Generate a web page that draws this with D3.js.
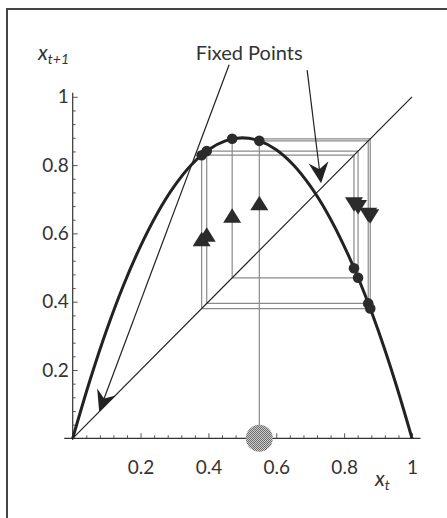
<!DOCTYPE html>
<html>
<head>
<meta charset="utf-8">
<script src="https://cdn.jsdelivr.net/npm/d3@7"></script>
<style>
  body { margin: 0; background: #fff; }
  text { font-family: Lato, "Open Sans", sans-serif; fill: #333; }
</style>
</head>
<body>
<div id="chart"></div>
<script>
// curve of the map x_{t+1} = f(x_t)
var curveX = [0, 0.05, 0.1, 0.15, 0.2, 0.25, 0.3, 0.35, 0.4, 0.45, 0.5, 0.55, 0.6, 0.65, 0.7, 0.75, 0.8, 0.85, 0.9, 0.95, 1];
var curveY = [0, 0.167, 0.317, 0.449, 0.563, 0.66, 0.739, 0.801, 0.845, 0.871, 0.88, 0.871, 0.845, 0.801, 0.739, 0.66, 0.563, 0.449, 0.317, 0.167, 0];

// cobweb orbit, starting at the grey dot
var orbit = [0.55, 0.871, 0.395, 0.841, 0.470, 0.877, 0.380, 0.829, 0.498];

// tick labels
var majorTicks = [0.2, 0.4, 0.6, 0.8, 1];
var minorTicks = [0.04, 0.08, 0.12, 0.16, 0.24, 0.28, 0.32, 0.36, 0.44, 0.48, 0.52, 0.56,
                  0.64, 0.68, 0.72, 0.76, 0.84, 0.88, 0.92, 0.96];

// annotation: label and where its two arrows point (data coords)
var fixedLabel = {text: "Fixed Points", x: 0.52, y: 1.108};
var fixedArrows = [
  {from: [0.461, 1.094], to: [0.078, 0.078]},
  {from: [0.691, 1.078], to: [0.732, 0.747]}
];

var width = 447, height = 518;

var svg = d3.select("#chart")
            .append("svg")
            .attr("width", width)
            .attr("height", height);

var x = d3.scaleLinear().domain([0, 1]).range([72.7, 412]);
var y = d3.scaleLinear().domain([0, 1]).range([438.3, 96.8]);

// stipple for the start dot
var pat = svg.append("defs").append("pattern")
             .attr("id", "stipple")
             .attr("width", 2).attr("height", 2)
             .attr("patternUnits", "userSpaceOnUse");
pat.append("rect").attr("width", 2).attr("height", 2).attr("fill", "#cfcfcf");
pat.append("rect").attr("width", 1).attr("height", 1).attr("fill", "#6a6a6a");
pat.append("rect").attr("x", 1).attr("y", 1).attr("width", 1).attr("height", 1).attr("fill", "#6a6a6a");

// frame
svg.append("rect")
   .attr("x", 7).attr("y", 9)
   .attr("width", 470).attr("height", 540)
   .attr("fill", "none")
   .attr("stroke", "#444")
   .attr("stroke-width", 2);

// axes lines
svg.append("line")
   .attr("x1", x(-0.025)).attr("x2", x(1.025))
   .attr("y1", y(0)).attr("y2", y(0))
   .attr("stroke", "#333").attr("stroke-width", 1.2);
svg.append("line")
   .attr("x1", x(0)).attr("x2", x(0))
   .attr("y1", y(-0.005)).attr("y2", y(1.012))
   .attr("stroke", "#333").attr("stroke-width", 1.2);

// ticks
function tickAxis(g, axis) {
  g.call(axis);
  g.select(".domain").remove();
  g.selectAll("line").attr("stroke", "#555");
}
svg.append("g").attr("transform", "translate(0," + y(0) + ")")
   .call(tickAxis, d3.axisBottom(x).tickValues(majorTicks).tickSize(-5).tickFormat(""));
svg.append("g").attr("transform", "translate(0," + y(0) + ")")
   .call(tickAxis, d3.axisBottom(x).tickValues(minorTicks).tickSize(-3).tickFormat(""));
svg.append("g").attr("transform", "translate(" + x(0) + ",0)")
   .call(tickAxis, d3.axisLeft(y).tickValues(majorTicks).tickSize(-5).tickFormat(""));
svg.append("g").attr("transform", "translate(" + x(0) + ",0)")
   .call(tickAxis, d3.axisLeft(y).tickValues(minorTicks).tickSize(-3).tickFormat(""));

// tick labels
var xl = svg.append("g").attr("transform", "translate(0," + y(0) + ")")
            .call(d3.axisBottom(x).tickValues(majorTicks).tickSize(0).tickPadding(22).tickFormat(d3.format("")));
xl.select(".domain").remove();
xl.selectAll("text").attr("font-size", 19).attr("font-family", "Lato");
var yl = svg.append("g").attr("transform", "translate(" + x(0) + ",0)")
            .call(d3.axisLeft(y).tickValues(majorTicks).tickSize(0).tickPadding(4).tickFormat(d3.format("")));
yl.select(".domain").remove();
yl.selectAll("text").attr("font-size", 19).attr("font-family", "Lato");

// axis titles
var ty = svg.append("text").attr("x", x(-0.102)).attr("y", y(1.108)).attr("font-size", 21);
ty.append("tspan").attr("font-style", "italic").text("x");
ty.append("tspan").attr("font-style", "italic").attr("font-size", 14).attr("dy", 4).text("t+1");
var tx = svg.append("text").attr("x", x(0.891)).attr("y", y(-0.14)).attr("font-size", 21);
tx.append("tspan").attr("font-style", "italic").text("x");
tx.append("tspan").attr("font-style", "italic").attr("font-size", 14).attr("dy", 4).text("t");

// cobweb lines
var web = [];
web.push([[orbit[0], 0], [orbit[0], orbit[1]]]);
for (var i = 1; i < orbit.length - 1; i++) {
  web.push([[orbit[i - 1], orbit[i]], [orbit[i], orbit[i]]]);
  web.push([[orbit[i], orbit[i]], [orbit[i], orbit[i + 1]]]);
}
svg.selectAll(".web")
   .data(web)
   .enter().append("line")
   .attr("class", "web")
   .attr("x1", function(d){ return x(d[0][0]); })
   .attr("y1", function(d){ return y(d[0][1]); })
   .attr("x2", function(d){ return x(d[1][0]); })
   .attr("y2", function(d){ return y(d[1][1]); })
   .attr("stroke", "#8a8a8a")
   .attr("stroke-width", 1.2);

// diagonal
svg.append("line")
   .attr("x1", x(0)).attr("y1", y(0))
   .attr("x2", x(1)).attr("y2", y(1))
   .attr("stroke", "#222").attr("stroke-width", 1.2);

// the map curve
var pts = curveX.map(function(v, i){ return [v, curveY[i]]; });
svg.append("path")
   .datum(pts)
   .attr("d", d3.line().x(function(d){ return x(d[0]); }).y(function(d){ return y(d[1]); }).curve(d3.curveCatmullRom))
   .attr("fill", "none")
   .attr("stroke", "#222")
   .attr("stroke-width", 3);

// direction triangles, tip at the middle of each vertical step
var steps = [];
for (var j = 0; j < orbit.length - 1; j++) {
  steps.push({x: orbit[j], mid: (orbit[j] + orbit[j + 1]) / 2, up: orbit[j + 1] > orbit[j]});
}
svg.selectAll(".tri")
   .data(steps)
   .enter().append("path")
   .attr("class", "tri")
   .attr("d", function(d){
     var cx = x(d.x), cy = y(d.mid), s = d.up ? 1 : -1;
     return "M" + cx + "," + cy + "L" + (cx - 9) + "," + (cy + s * 14.5) + "L" + (cx + 9) + "," + (cy + s * 14.5) + "Z";
   })
   .attr("fill", "#2b2b2b");

// dots on the curve
svg.selectAll(".dot")
   .data(d3.range(orbit.length - 1))
   .enter().append("circle")
   .attr("class", "dot")
   .attr("cx", function(k){ return x(orbit[k]); })
   .attr("cy", function(k){ return y(orbit[k + 1]); })
   .attr("r", 5.3)
   .attr("fill", "#2b2b2b");

// start dot on the axis
svg.append("circle")
   .attr("cx", x(orbit[0])).attr("cy", y(0))
   .attr("r", 13.5)
   .attr("fill", "url(#stipple)");

// annotation
svg.append("text")
   .attr("x", x(fixedLabel.x)).attr("y", y(fixedLabel.y))
   .attr("text-anchor", "middle")
   .attr("font-size", 20)
   .text(fixedLabel.text);

function arrowHead(tx, ty, ux, uy) {
  var len = 21, hw = 10, notch = 7;
  var bx = tx - ux * len, by = ty - uy * len;
  var px = -uy, py = ux;
  var nx = tx - ux * (len - notch), ny = ty - uy * (len - notch);
  return "M" + tx + "," + ty +
         "L" + (bx + px * hw) + "," + (by + py * hw) +
         "L" + nx + "," + ny +
         "L" + (bx - px * hw) + "," + (by - py * hw) + "Z";
}
fixedArrows.forEach(function(a){
  var x1 = x(a.from[0]), y1 = y(a.from[1]), x2 = x(a.to[0]), y2 = y(a.to[1]);
  var L = Math.hypot(x2 - x1, y2 - y1), ux = (x2 - x1) / L, uy = (y2 - y1) / L;
  svg.append("line")
     .attr("x1", x1).attr("y1", y1)
     .attr("x2", x2 - ux * 12).attr("y2", y2 - uy * 12)
     .attr("stroke", "#222").attr("stroke-width", 1.2);
  svg.append("path").attr("d", arrowHead(x2, y2, ux, uy)).attr("fill", "#222");
});
</script>
</body>
</html>
